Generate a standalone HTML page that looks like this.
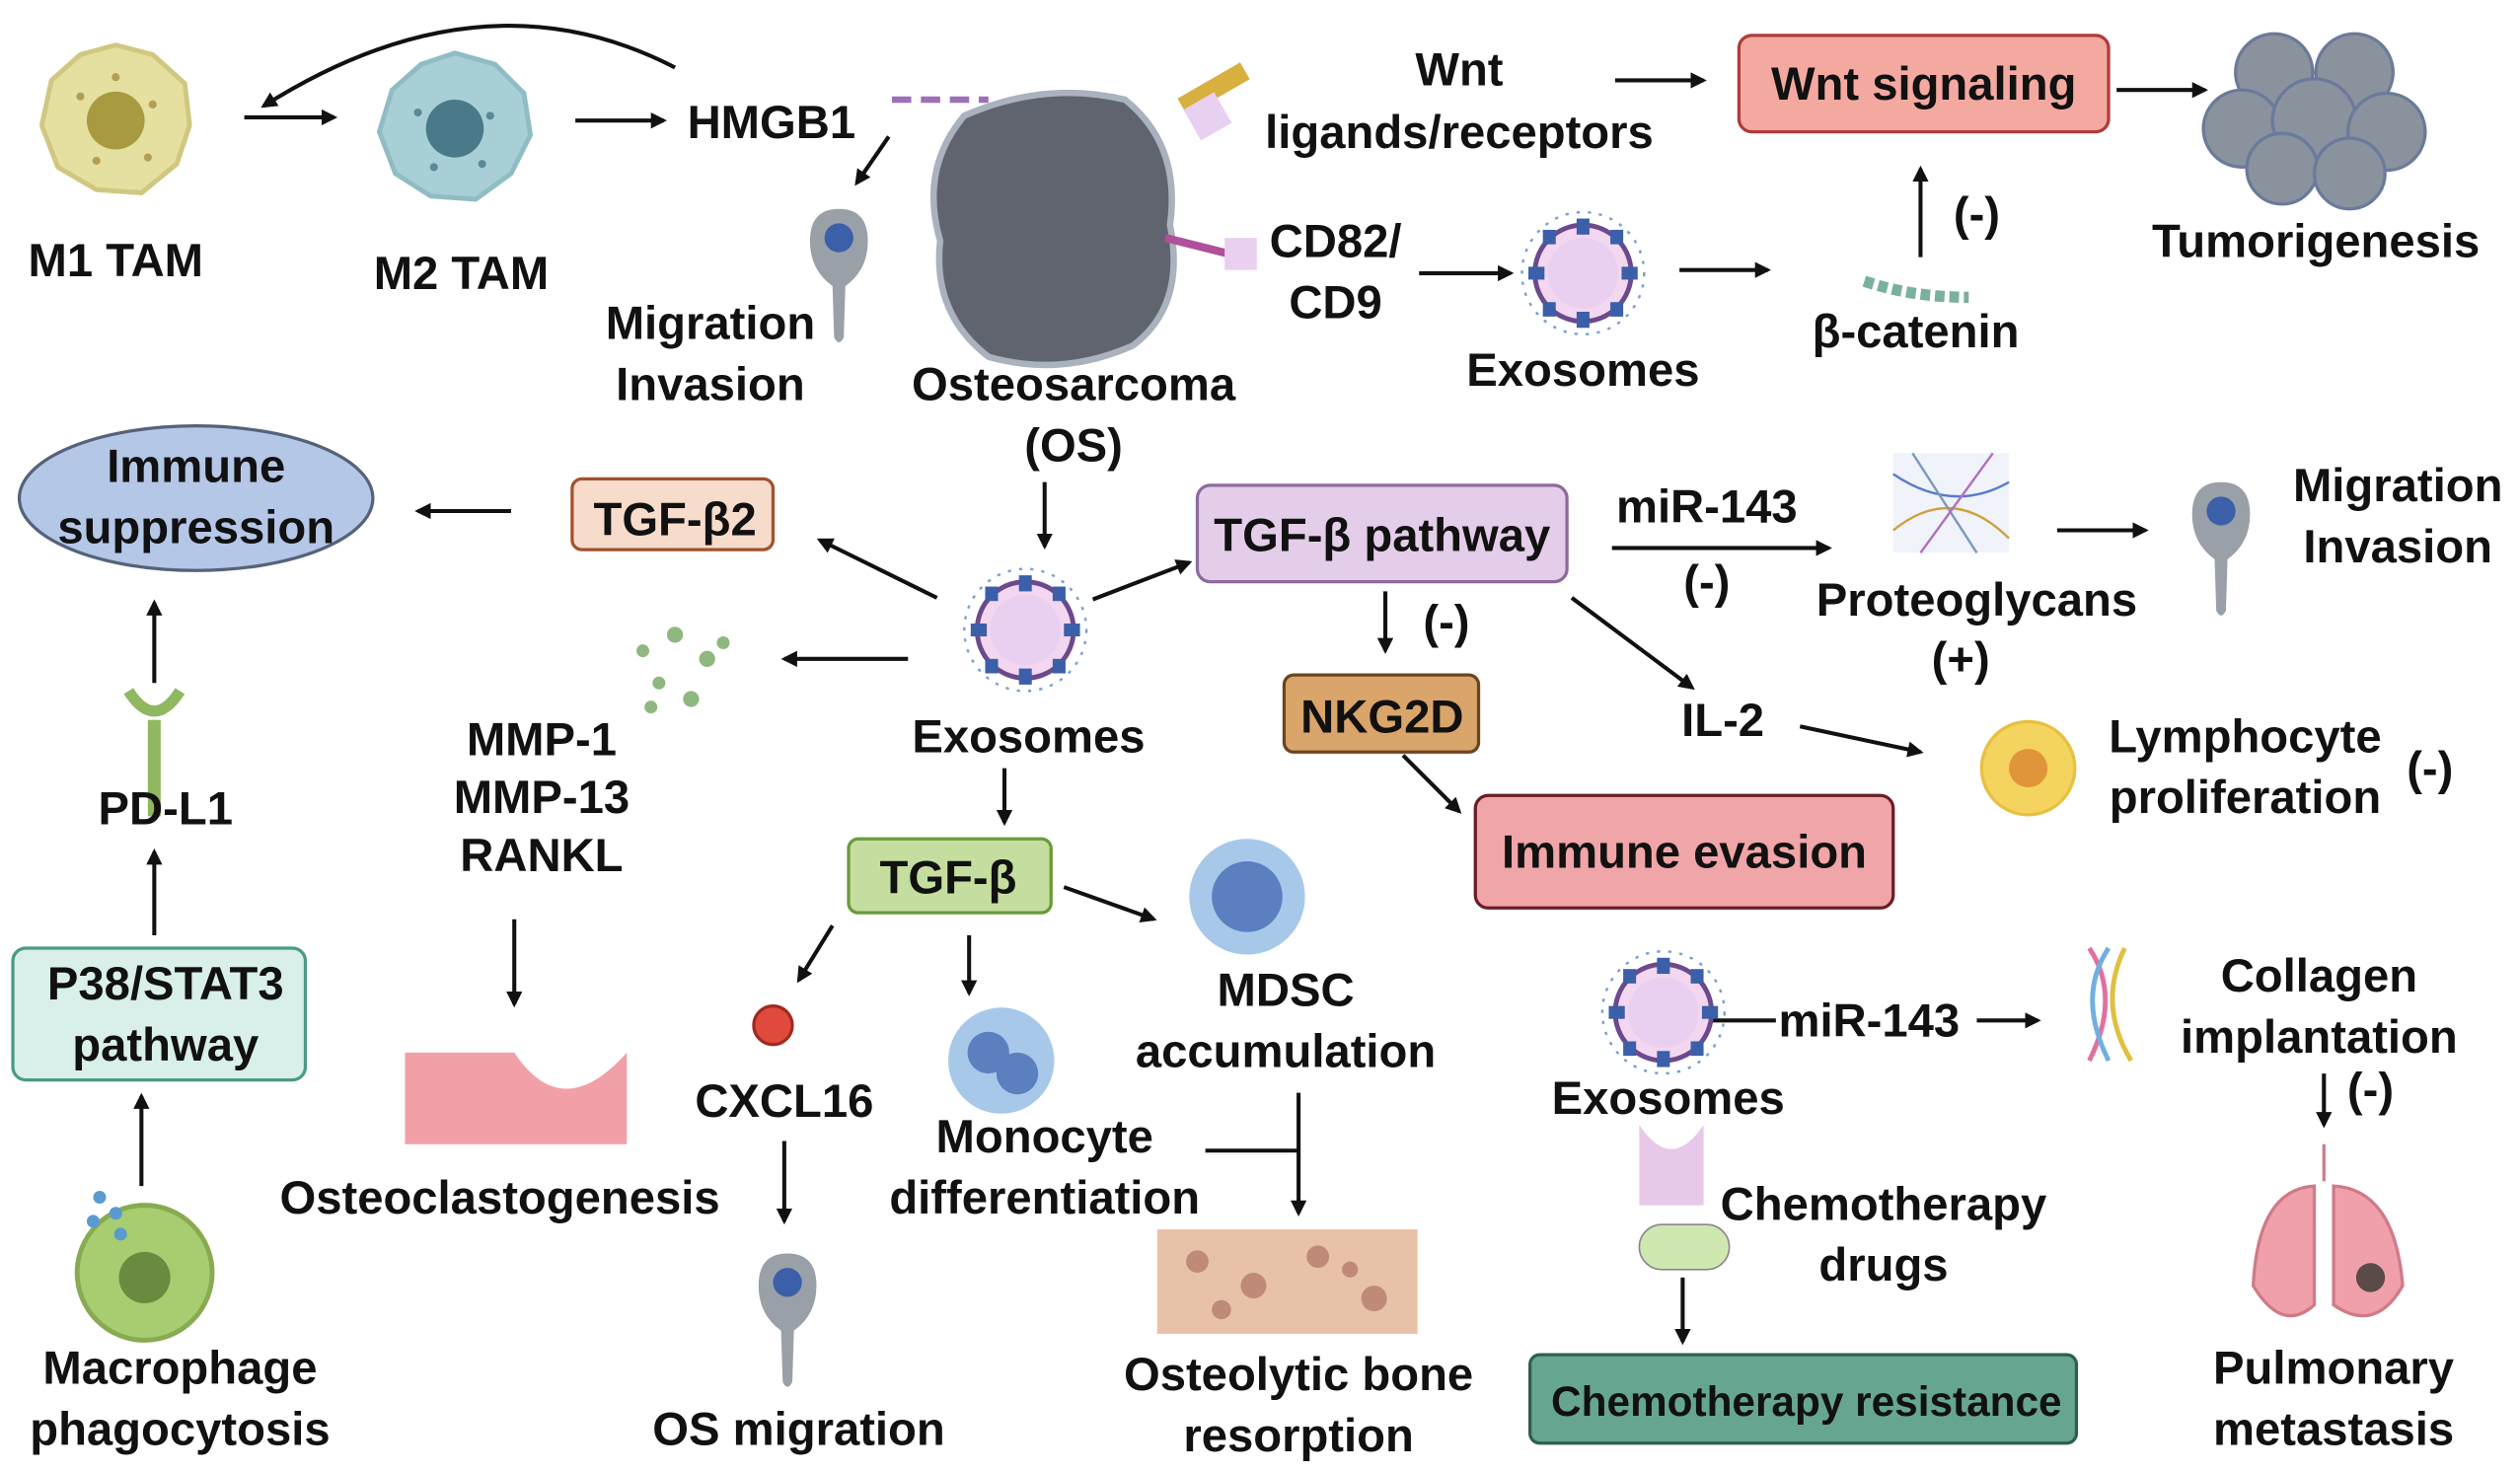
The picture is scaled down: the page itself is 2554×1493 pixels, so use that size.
<!DOCTYPE html>
<html><head><meta charset="utf-8"><style>
html,body{margin:0;padding:0;background:#fff;}
svg{display:block;}
text{font-family:"Liberation Sans",sans-serif;font-weight:bold;font-size:29px;fill:#111;text-anchor:middle;}
</style></head><body>
<svg width="2554" height="1493" viewBox="0 0 1568 916.6" xmlns="http://www.w3.org/2000/svg">
<defs>
<marker id="a" markerWidth="10" markerHeight="10" refX="8" refY="5" orient="auto" markerUnits="userSpaceOnUse"><path d="M0,0 L10,5 L0,10 Z" fill="#111"/></marker>
<g id="exo">
<circle r="30" fill="#f3d6ef" stroke="#6a4a8a" stroke-width="3"/>
<circle r="22" fill="#ead0f0"/>
<g fill="#3b5fa8"><rect x="-4" y="-34" width="8" height="10"/><rect x="-4" y="24" width="8" height="10"/><rect x="-34" y="-4" width="10" height="8"/><rect x="24" y="-4" width="10" height="8"/><rect x="17" y="-27" width="8" height="9"/><rect x="-25" y="-27" width="8" height="9"/><rect x="17" y="18" width="8" height="9"/><rect x="-25" y="18" width="8" height="9"/></g>
<circle r="38" fill="none" stroke="#7aa0d0" stroke-width="1.5" stroke-dasharray="2 5"/>
</g>
<g id="mig">
<path d="M-18,-10 Q-18,-30 0,-30 Q18,-30 18,-10 Q18,8 4,18 L3,50 Q0,56 -3,50 L-4,18 Q-18,8 -18,-10Z" fill="#9aa0a8"/>
<circle cx="0" cy="-12" r="9" fill="#3b5fa8"/>
</g>
</defs>
<g stroke="#111" stroke-width="2.5" fill="none" marker-end="url(#a)">
<line x1="152" y1="73" x2="208" y2="73"/>
<line x1="358" y1="75" x2="413" y2="75"/>
<path d="M420,42 Q300,-20 164,66"/>
<line x1="553" y1="85" x2="533" y2="114"/>
<line x1="1005" y1="50" x2="1060" y2="50"/>
<line x1="1317" y1="56" x2="1372" y2="56"/>
<line x1="883" y1="170" x2="940" y2="170"/>
<line x1="1045" y1="168" x2="1100" y2="168"/>
<line x1="1195" y1="160" x2="1195" y2="105"/>
<line x1="318" y1="318" x2="260" y2="318"/>
<line x1="650" y1="300" x2="650" y2="340"/>
<line x1="583" y1="372" x2="510" y2="336"/>
<line x1="680" y1="373" x2="740" y2="350"/>
<line x1="565" y1="410" x2="488" y2="410"/>
<line x1="96" y1="425" x2="96" y2="375"/>
<line x1="96" y1="582" x2="96" y2="530"/>
<line x1="88" y1="738" x2="88" y2="682"/>
<line x1="1003" y1="341" x2="1138" y2="341"/>
<line x1="1280" y1="330" x2="1335" y2="330"/>
<line x1="862" y1="368" x2="862" y2="405"/>
<line x1="978" y1="372" x2="1053" y2="428"/>
<line x1="1120" y1="452" x2="1195" y2="468"/>
<line x1="873" y1="470" x2="908" y2="505"/>
<line x1="625" y1="478" x2="625" y2="512"/>
<line x1="320" y1="572" x2="320" y2="625"/>
<line x1="518" y1="576" x2="497" y2="610"/>
<line x1="603" y1="582" x2="603" y2="618"/>
<line x1="662" y1="552" x2="718" y2="572"/>
<line x1="488" y1="710" x2="488" y2="760"/>
<line x1="808" y1="680" x2="808" y2="755"/>
<line x1="1230" y1="635" x2="1268" y2="635"/>
<line x1="1446" y1="668" x2="1446" y2="700"/>
<line x1="1047" y1="795" x2="1047" y2="835"/>
</g>
<line x1="750" y1="716" x2="808" y2="716" stroke="#111" stroke-width="2.5"/>
<line x1="1040" y1="635" x2="1105" y2="635" stroke="#111" stroke-width="2.5"/>
<!-- icons -->
<path d="M72,28 L95,34 L115,52 L118,78 L110,102 L88,120 L60,118 L36,104 L26,78 L32,50 L50,34Z" fill="#e6e0a0" stroke="#d0c880" stroke-width="3"/><circle cx="72" cy="75" r="18" fill="#a89a40"/>
<g fill="#b0a050"><circle cx="50" cy="60" r="2.5"/><circle cx="95" cy="65" r="2.5"/><circle cx="60" cy="100" r="2.5"/><circle cx="92" cy="98" r="2.5"/><circle cx="72" cy="48" r="2.5"/></g>
<path d="M283,33 L308,40 L326,58 L330,84 L318,108 L296,124 L268,122 L246,108 L236,82 L244,56 L262,40Z" fill="#a8cfd5" stroke="#90bcc4" stroke-width="3"/><circle cx="283" cy="80" r="18" fill="#4a7a8a"/>
<g fill="#5a8a98"><circle cx="260" cy="70" r="2.5"/><circle cx="305" cy="72" r="2.5"/><circle cx="270" cy="104" r="2.5"/><circle cx="300" cy="102" r="2.5"/></g>
<path d="M600,72 Q650,50 700,62 Q735,90 728,140 Q738,190 705,215 Q660,235 615,222 Q580,195 585,150 Q572,105 600,72Z" fill="#5f646e" stroke="#a9b2bd" stroke-width="4"/>
<rect x="735" y="50" width="45" height="12" fill="#d8b040" transform="rotate(-30 755 60)"/>
<rect x="740" y="62" width="22" height="22" fill="#e8d0f0" transform="rotate(-30 750 72)"/>
<line x1="725" y1="148" x2="765" y2="158" stroke="#b0509a" stroke-width="5"/><rect x="762" y="148" width="20" height="20" fill="#ead0f0"/>
<line x1="555" y1="62" x2="615" y2="62" stroke="#9a70b8" stroke-width="4" stroke-dasharray="12 6"/>
<use href="#mig" x="522" y="160"/>
<use href="#exo" x="985" y="170"/>
<use href="#exo" x="638" y="392"/>
<use href="#exo" x="1035" y="630"/>
<g fill="#8a929e" stroke="#6a7a9a" stroke-width="2">
<circle cx="1415" cy="45" r="24"/><circle cx="1465" cy="45" r="24"/><circle cx="1395" cy="80" r="24"/><circle cx="1440" cy="75" r="26"/><circle cx="1485" cy="82" r="24"/><circle cx="1420" cy="105" r="22"/><circle cx="1462" cy="108" r="22"/></g>
<path d="M1160,175 Q1190,185 1225,185" stroke="#7ab0a0" stroke-width="7" fill="none" stroke-dasharray="6 3"/>
<rect x="1178" y="282" width="72" height="62" fill="#f0f4fa"/>
<g stroke-width="1.5" fill="none"><path d="M1178,295 Q1215,320 1250,300" stroke="#5a7ad0"/><path d="M1178,330 Q1215,300 1250,335" stroke="#d0a040"/><path d="M1190,282 L1230,344" stroke="#7a9ac0"/><path d="M1240,282 L1195,344" stroke="#b070c0"/></g>
<use href="#mig" x="1382" y="330"/>
<circle cx="1262" cy="478" r="29" fill="#f4d35e" stroke="#e8c040" stroke-width="2"/><circle cx="1262" cy="478" r="12" fill="#e0953a"/>
<g fill="#8fb880"><circle cx="400" cy="405" r="4"/><circle cx="420" cy="395" r="5"/><circle cx="440" cy="410" r="5"/><circle cx="410" cy="425" r="4"/><circle cx="430" cy="435" r="5"/><circle cx="450" cy="400" r="4"/><circle cx="405" cy="440" r="4"/></g>
<rect x="92" y="448" width="8" height="60" fill="#8fb860"/><path d="M80,430 Q96,455 112,430" stroke="#8fb860" stroke-width="7" fill="none"/>
<circle cx="90" cy="792" r="42" fill="#a8cc70" stroke="#88aa50" stroke-width="3"/><circle cx="90" cy="795" r="16" fill="#6a8a40"/>
<g fill="#5a9ad0"><circle cx="62" cy="745" r="4"/><circle cx="72" cy="755" r="4"/><circle cx="58" cy="760" r="4"/><circle cx="75" cy="768" r="4"/></g>
<path d="M252,655 L320,655 Q350,700 390,655 L390,712 L252,712Z" fill="#f2a0a8"/>
<circle cx="481" cy="638" r="12" fill="#e04a3c" stroke="#a02a20" stroke-width="2"/>
<use href="#mig" x="490" y="810"/>
<circle cx="623" cy="660" r="33" fill="#a8c8ea"/><circle cx="615" cy="655" r="13" fill="#5a80c0"/><circle cx="633" cy="668" r="13" fill="#5a80c0"/>
<circle cx="776" cy="558" r="36" fill="#a8c8ea"/><circle cx="776" cy="558" r="22" fill="#5a80c0"/>
<rect x="720" y="765" width="162" height="65" fill="#e8c2a8"/>
<g fill="#c08a78"><circle cx="745" cy="785" r="7"/><circle cx="780" cy="800" r="8"/><circle cx="820" cy="782" r="7"/><circle cx="855" cy="808" r="8"/><circle cx="760" cy="815" r="6"/><circle cx="840" cy="790" r="5"/></g>
<g stroke-width="3" fill="none"><path d="M1300,590 Q1320,620 1300,660" stroke="#e070a0"/><path d="M1312,590 Q1292,620 1312,660" stroke="#70b0e0"/><path d="M1322,590 Q1305,625 1326,660" stroke="#e0c040"/></g>
<path d="M1020,700 Q1040,730 1060,700 L1060,750 L1020,750Z" fill="#e8c8e8"/>
<rect x="1020" y="762" width="56" height="28" rx="14" fill="#cfe8b0" stroke="#888" stroke-width="1"/>
<path d="M1446,712 L1446,735 M1440,738 Q1405,740 1402,800 Q1420,830 1440,812Z M1452,738 Q1490,740 1495,800 Q1478,830 1452,812Z" fill="#f0a0aa" stroke="#d07a88" stroke-width="2"/>
<circle cx="1475" cy="795" r="9" fill="#5a4a48"/>
<!-- boxes -->
<rect x="1082" y="22" width="230" height="60" rx="8" fill="#f4a9a0" stroke="#b03a3a" stroke-width="2"/>
<ellipse cx="122" cy="310" rx="110" ry="45" fill="#b4c7e7" stroke="#55627a" stroke-width="2"/>
<rect x="356" y="298" width="125" height="44" rx="6" fill="#f8dccb" stroke="#a0522d" stroke-width="2"/>
<rect x="745" y="302" width="230" height="60" rx="8" fill="#e4cde8" stroke="#8e6aa0" stroke-width="2"/>
<rect x="799" y="420" width="121" height="48" rx="6" fill="#d9a56a" stroke="#6b4520" stroke-width="2"/>
<rect x="918" y="495" width="260" height="70" rx="8" fill="#f0a5a8" stroke="#6b1d25" stroke-width="2"/>
<rect x="8" y="590" width="182" height="82" rx="8" fill="#d9efe9" stroke="#4a9a86" stroke-width="2"/>
<rect x="528" y="522" width="126" height="46" rx="6" fill="#c5dea0" stroke="#6a9a3a" stroke-width="2"/>
<rect x="952" y="843" width="340" height="55" rx="6" fill="#66a690" stroke="#2f5e50" stroke-width="2"/>
<!-- text -->
<text x="72" y="172">M1 TAM</text>
<text x="287" y="180">M2 TAM</text>
<text x="480" y="86">HMGB1</text>
<text x="908" y="53">Wnt</text><text x="908" y="92">ligands/receptors</text>
<text x="1197" y="62">Wnt signaling</text>
<text x="1441" y="160">Tumorigenesis</text>
<text x="831" y="160">CD82/</text><text x="831" y="198">CD9</text>
<text x="985" y="240">Exosomes</text>
<text x="1230" y="143">(-)</text>
<text x="1192" y="216">β-catenin</text>
<text x="442" y="211">Migration</text><text x="442" y="249">Invasion</text>
<text x="668" y="249">Osteosarcoma</text><text x="668" y="287">(OS)</text>
<text x="122" y="300">Immune</text><text x="122" y="338">suppression</text>
<text x="420" y="333">TGF-β2</text>
<text x="860" y="343">TGF-β pathway</text>
<text x="1062" y="325">miR-143</text><text x="1062" y="372">(-)</text>
<text x="1230" y="383">Proteoglycans</text><text x="1220" y="420">(+)</text>
<text x="1492" y="312">Migration</text><text x="1492" y="350">Invasion</text>
<text x="900" y="397">(-)</text>
<text x="860" y="456">NKG2D</text>
<text x="1072" y="458">IL-2</text>
<text x="1397" y="468">Lymphocyte</text><text x="1397" y="506">proliferation</text><text x="1512" y="488">(-)</text>
<text x="1048" y="540">Immune evasion</text>
<text x="640" y="468">Exosomes</text>
<text x="337" y="470">MMP-1</text><text x="337" y="506">MMP-13</text><text x="337" y="542">RANKL</text>
<text x="103" y="513">PD-L1</text>
<text x="103" y="622">P38/STAT3</text><text x="103" y="660">pathway</text>
<text x="590" y="556">TGF-β</text>
<text x="800" y="626">MDSC</text><text x="800" y="664">accumulation</text>
<text x="488" y="695">CXCL16</text>
<text x="650" y="717">Monocyte</text><text x="650" y="755">differentiation</text>
<text x="311" y="755">Osteoclastogenesis</text>
<text x="1163" y="645">miR-143</text>
<text x="1038" y="693">Exosomes</text>
<text x="1443" y="617">Collagen</text><text x="1443" y="655">implantation</text><text x="1475" y="688">(-)</text>
<text x="1172" y="759">Chemotherapy</text><text x="1172" y="797">drugs</text>
<text x="1124" y="881" style="font-size:26px">Chemotherapy resistance</text>
<text x="112" y="861">Macrophage</text><text x="112" y="899">phagocytosis</text>
<text x="497" y="899">OS migration</text>
<text x="808" y="865">Osteolytic bone</text><text x="808" y="903">resorption</text>
<text x="1452" y="861">Pulmonary</text><text x="1452" y="899">metastasis</text>
</svg>
</body></html>
